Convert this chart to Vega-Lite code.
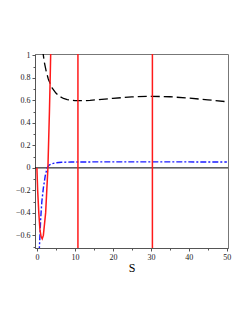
{
  "$schema": "https://vega.github.io/schema/vega-lite/v6.json",
  "autosize": "none",
  "width": 193,
  "height": 194,
  "padding": {"left": 35, "top": 54, "right": 21, "bottom": 75},
  "background": "white",
  "config": {
    "view": {"stroke": "#777", "strokeWidth": 1},
    "axis": {"labelFont": "Liberation Serif", "titleFont": "Liberation Serif", "labelFontSize": 8, "labelColor": "#222", "domainColor": "#555", "tickColor": "#555", "grid": false, "tickSize": 3, "labelPadding": 2, "labelOverlap": false}
  },
  "datasets": {
    "red": [
      {"S": 0, "v": 0}, {"S": 0.2, "v": -0.2}, {"S": 0.5, "v": -0.4}, {"S": 0.8, "v": -0.55},
      {"S": 1.1, "v": -0.61}, {"S": 1.4, "v": -0.63}, {"S": 1.7, "v": -0.6}, {"S": 2.0, "v": -0.5},
      {"S": 2.3, "v": -0.4}, {"S": 2.6, "v": -0.2}, {"S": 2.9, "v": 0}, {"S": 3.1, "v": 0.25},
      {"S": 3.3, "v": 0.5}, {"S": 3.5, "v": 0.8}, {"S": 3.65, "v": 1.05}
    ],
    "blue": [
      {"S": 0.6, "v": -0.75}, {"S": 0.8, "v": -0.6}, {"S": 1.0, "v": -0.45}, {"S": 1.3, "v": -0.3},
      {"S": 1.7, "v": -0.18}, {"S": 2.2, "v": -0.07}, {"S": 2.7, "v": 0}, {"S": 3.2, "v": 0.025},
      {"S": 4, "v": 0.037}, {"S": 5, "v": 0.045}, {"S": 6.5, "v": 0.05}, {"S": 9, "v": 0.052},
      {"S": 15, "v": 0.053}, {"S": 20, "v": 0.053}, {"S": 30, "v": 0.053}, {"S": 40, "v": 0.053},
      {"S": 50, "v": 0.052}
    ],
    "black": [
      {"S": 1.5, "v": 1.05}, {"S": 1.7, "v": 1.0}, {"S": 2.0, "v": 0.93}, {"S": 2.5, "v": 0.85},
      {"S": 3, "v": 0.79}, {"S": 3.5, "v": 0.75}, {"S": 4, "v": 0.71}, {"S": 5, "v": 0.665},
      {"S": 6, "v": 0.635}, {"S": 7, "v": 0.617}, {"S": 8, "v": 0.607}, {"S": 9, "v": 0.601},
      {"S": 10, "v": 0.598}, {"S": 12, "v": 0.597}, {"S": 14, "v": 0.6}, {"S": 16, "v": 0.606},
      {"S": 20, "v": 0.618}, {"S": 25, "v": 0.631}, {"S": 30, "v": 0.636}, {"S": 35, "v": 0.632},
      {"S": 40, "v": 0.62}, {"S": 45, "v": 0.605}, {"S": 50, "v": 0.588}
    ],
    "vlines": [{"S": 10.8}, {"S": 30.4}],
    "zero": [{"v": 0}],
    "minor": [{"S": 5, "v": 0.1}]
  },
  "resolve": {"axis": {"x": "independent", "y": "independent"}},
  "layer": [
    {
      "data": {"name": "zero"},
      "mark": {"type": "rule", "color": "black", "strokeWidth": 1},
      "encoding": {
        "y": {"field": "v", "type": "quantitative", "scale": {"domain": [-0.712, 1.012], "nice": false, "zero": false},
              "axis": {"title": null, "orient": "left", "values": [-0.6, -0.4, -0.2, 0, 0.2, 0.4, 0.6, 0.8, 1], "format": "~g"}}
      }
    },
    {
      "data": {"name": "minor"},
      "mark": {"type": "point", "opacity": 0},
      "encoding": {
        "x": {"field": "S", "type": "quantitative",
              "axis": {"title": null, "orient": "bottom", "labels": false, "domain": false, "tickSize": 2, "values": [5, 15, 25, 35, 45]}},
        "y": {"field": "v", "type": "quantitative",
              "axis": {"title": null, "orient": "left", "labels": false, "domain": false, "tickSize": 2, "values": [-0.7, -0.5, -0.3, -0.1, 0.1, 0.3, 0.5, 0.7, 0.9]}}
      }
    },
    {
      "data": {"name": "black"},
      "mark": {"type": "line", "color": "black", "strokeWidth": 1.3, "strokeDash": [9, 4], "clip": true},
      "encoding": {
        "x": {"field": "S", "type": "quantitative", "scale": {"domain": [-0.5, 50.3], "nice": false, "zero": false},
              "axis": {"title": "S", "orient": "bottom", "titleFontSize": 12, "titleFontWeight": "normal", "titlePadding": 1, "values": [0, 10, 20, 30, 40, 50], "format": "d"}},
        "y": {"field": "v", "type": "quantitative", "axis": null}
      }
    },
    {
      "data": {"name": "blue"},
      "mark": {"type": "line", "color": "#1a1aff", "strokeWidth": 1.4, "strokeDash": [6, 2, 2, 2], "clip": true},
      "encoding": {
        "x": {"field": "S", "type": "quantitative", "axis": null},
        "y": {"field": "v", "type": "quantitative", "axis": null}
      }
    },
    {
      "data": {"name": "red"},
      "mark": {"type": "line", "color": "#ff1a1a", "strokeWidth": 1.5, "clip": true},
      "encoding": {
        "x": {"field": "S", "type": "quantitative", "axis": null},
        "y": {"field": "v", "type": "quantitative", "axis": null}
      }
    },
    {
      "data": {"name": "vlines"},
      "mark": {"type": "rule", "color": "#ff1a1a", "strokeWidth": 1.5},
      "encoding": {
        "x": {"field": "S", "type": "quantitative", "axis": null}
      }
    }
  ]
}
